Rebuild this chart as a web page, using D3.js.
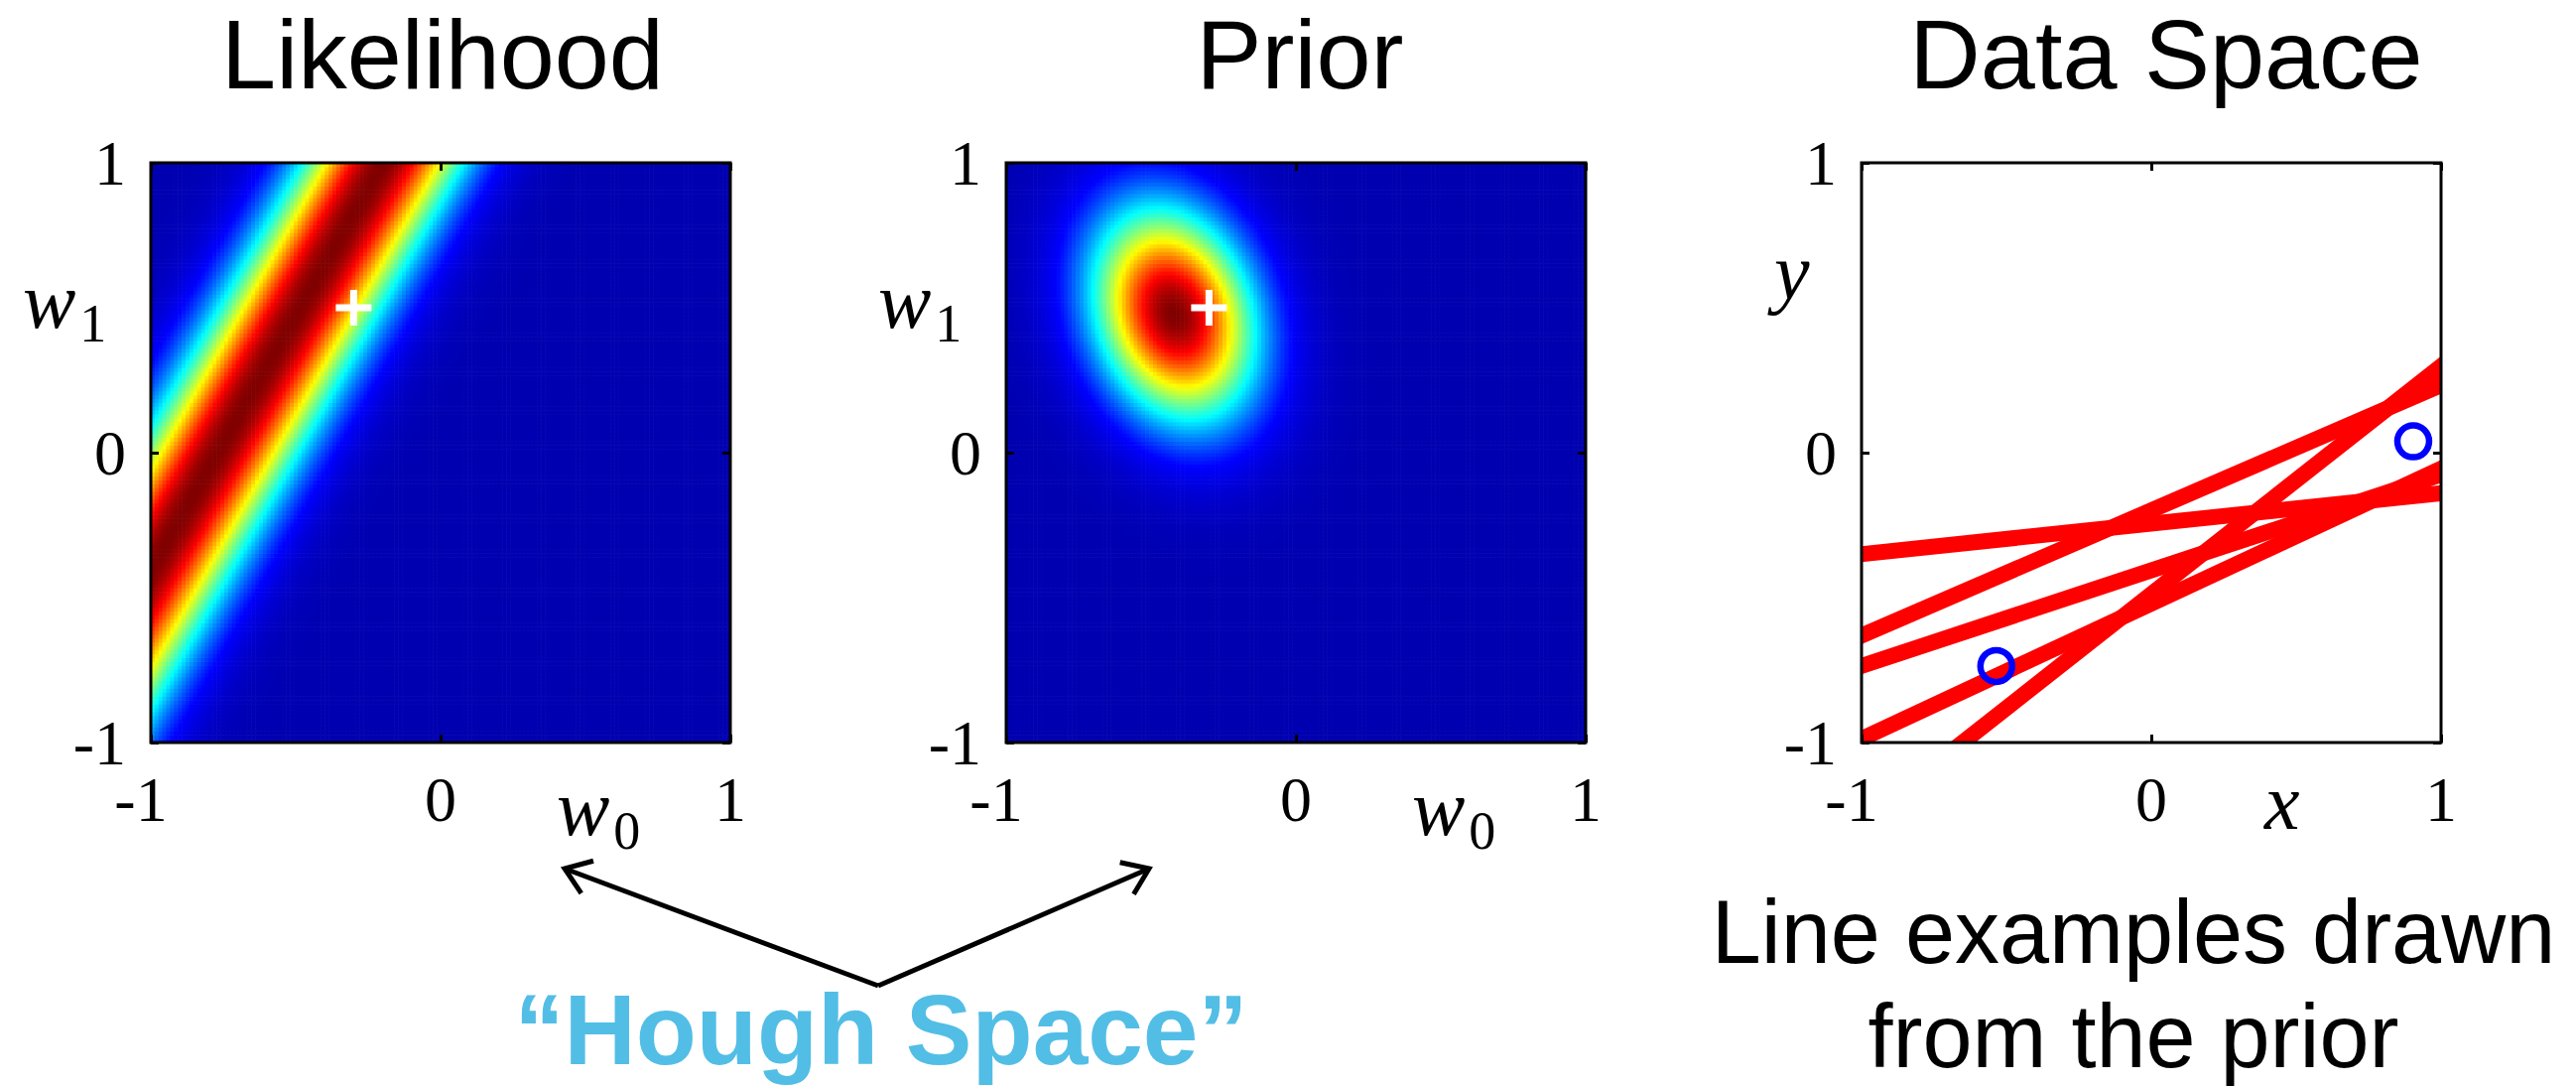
<!DOCTYPE html>
<html>
<head>
<meta charset="utf-8">
<script src="https://cdn.jsdelivr.net/npm/d3@7"></script>
<style>
  body { margin: 0; background: #fff; }
  .title { font-family: "Liberation Sans", Arial, Helvetica, sans-serif; font-size: 99px; text-anchor: middle; }
  .tick-label { font-family: "Liberation Serif", "Times New Roman", serif; font-size: 64px; }
  .math { font-family: "Liberation Serif", "Times New Roman", serif; font-style: italic; }
</style>
</head>
<body>
<svg id="chart" width="2596" height="1094"></svg>
<script>
// ---- data ----
var panelTitles = ["Likelihood", "Prior", "Data Space"];
var tickValues = [-1, 0, 1];
var tickLabels = ["-1", "0", "1"];

// true weights (white cross) w0, w1
var trueW = [-0.3, 0.5];

// single observation used for the likelihood band (x, t) and the noise level
var likelihoodObs = [-0.57, -0.77];
var noiseSigma = 0.2;

// prior gaussian over (w0, w1)
var priorMean = [-0.42, 0.48];
var priorSigma = [0.2, 0.26];
var priorRho = -0.2;

// observed points in data space
var obsX = [-0.535, 0.904];
var obsY = [-0.736, 0.039];

// line samples drawn from the prior (y = w0 + w1 * x)
var sampleW0 = [-0.245, -0.199, -0.406, -0.521, -0.488];
var sampleW1 = [0.105, 0.432, 0.33, 0.466, 0.786];

// ---- layout ----
var panelLeft = [152, 1014, 1876];
var panelTop = 164, panelSize = 584;
var gridN = 150;

var svg = d3.select("#chart");

// MATLAB jet colormap
var jet = d3.scaleLinear()
    .domain([0, 0.125, 0.375, 0.625, 0.875, 1])
    .range(["#0000b0", "#0000ff", "#00ffff", "#ffff00", "#ff0000", "#800000"])
    .clamp(true);

function likelihood(w0, w1) {
    var r = likelihoodObs[1] - w0 - w1 * likelihoodObs[0];
    return Math.exp(-r * r / (2 * noiseSigma * noiseSigma));
}
function prior(w0, w1) {
    var a = (w0 - priorMean[0]) / priorSigma[0];
    var b = (w1 - priorMean[1]) / priorSigma[1];
    var q = (a * a - 2 * priorRho * a * b + b * b) / (1 - priorRho * priorRho);
    return Math.exp(-q / 2);
}

var panels = panelLeft.map(function (left, i) {
    var g = svg.append("g").attr("class", "panel panel-" + i);
    var x = d3.scaleLinear().domain([-1, 1]).range([left, left + panelSize]);
    var y = d3.scaleLinear().domain([-1, 1]).range([panelTop + panelSize, panelTop]);
    return { g: g, x: x, y: y, left: left };
});

// titles
svg.selectAll("text.title")
    .data(panelTitles)
    .enter().append("text")
    .attr("class", "title")
    .attr("x", function (d, i) { return [446, 1310, 2183][i]; })
    .attr("y", 89)
    .text(function (d) { return d; });

// heat maps
var cells = [];
var step = 2 / gridN;
for (var i = 0; i < gridN; i++) {
    for (var j = 0; j < gridN; j++) {
        cells.push({ w0: -1 + i * step, w1: -1 + (j + 1) * step });
    }
}
[likelihood, prior].forEach(function (fn, k) {
    var p = panels[k];
    var vals = cells.map(function (c) { return fn(c.w0 + step / 2, c.w1 - step / 2); });
    var vmax = d3.max(vals), vmin = d3.min(vals);
    var cw = p.x(step) - p.x(0);
    p.g.append("g")
        .selectAll("rect")
        .data(cells)
        .enter().append("rect")
        .attr("x", function (d) { return p.x(d.w0); })
        .attr("y", function (d) { return p.y(d.w1); })
        .attr("width", cw + 0.6)
        .attr("height", cw + 0.6)
        .attr("fill", function (d, n) { return jet((vals[n] - vmin) / (vmax - vmin)); });
    // white cross at the true weights
    var cx = p.x(trueW[0]), cy = p.y(trueW[1]);
    p.g.append("path")
        .attr("d", "M" + (cx - 18) + "," + cy + "H" + (cx + 18) + "M" + cx + "," + (cy - 18) + "V" + (cy + 18))
        .attr("stroke", "#fff")
        .attr("stroke-width", 7)
        .attr("fill", "none");
});

// data space: sampled lines and observations
(function () {
    var p = panels[2];
    svg.append("clipPath").attr("id", "clip-data")
        .append("rect")
        .attr("x", p.left).attr("y", panelTop)
        .attr("width", panelSize).attr("height", panelSize);
    var line = d3.line().x(function (d) { return p.x(d[0]); }).y(function (d) { return p.y(d[1]); });
    p.g.append("g")
        .attr("clip-path", "url(#clip-data)")
        .selectAll("path")
        .data(sampleW0.map(function (w0, n) { return [w0, sampleW1[n]]; }))
        .enter().append("path")
        .attr("d", function (w) { return line([[-1.2, w[0] - 1.2 * w[1]], [1.2, w[0] + 1.2 * w[1]]]); })
        .attr("stroke", "#ff0000")
        .attr("stroke-width", 16)
        .attr("fill", "none");
    p.g.selectAll("circle")
        .data(obsX)
        .enter().append("circle")
        .attr("cx", function (d) { return p.x(d); })
        .attr("cy", function (d, n) { return p.y(obsY[n]); })
        .attr("r", 16)
        .attr("fill", "none")
        .attr("stroke", "#0000ff")
        .attr("stroke-width", 6.5);
})();

// frames, ticks and tick labels
panels.forEach(function (p) {
    var bottom = panelTop + panelSize;
    p.g.append("rect")
        .attr("x", p.left).attr("y", panelTop)
        .attr("width", panelSize).attr("height", panelSize)
        .attr("fill", "none").attr("stroke", "#000").attr("stroke-width", 3);
    var axes = [
        [d3.axisBottom(p.x), "translate(0," + bottom + ")"],
        [d3.axisTop(p.x), "translate(0," + panelTop + ")"],
        [d3.axisLeft(p.y), "translate(" + p.left + ",0)"],
        [d3.axisRight(p.y), "translate(" + (p.left + panelSize) + ",0)"]
    ];
    axes.forEach(function (a) {
        var ax = p.g.append("g")
            .attr("transform", a[1])
            .call(a[0].tickValues(tickValues).tickSize(-8).tickFormat(""));
        ax.select(".domain").remove();
        ax.selectAll("line").attr("stroke", "#000").attr("stroke-width", 3);
    });
    p.g.selectAll("text.xlab")
        .data(tickValues)
        .enter().append("text")
        .attr("class", "tick-label xlab")
        .attr("text-anchor", "middle")
        .attr("x", function (d) { return p.x(d); })
        .attr("dx", function (d, n) { return tickLabels[n].charAt(0) === "-" ? -10 : 0; })
        .attr("y", bottom + 79)
        .text(function (d, n) { return tickLabels[n]; });
    p.g.selectAll("text.ylab")
        .data(tickValues)
        .enter().append("text")
        .attr("class", "tick-label ylab")
        .attr("text-anchor", "end")
        .attr("x", p.left - 25)
        .attr("y", function (d) { return p.y(d) + 22; })
        .text(function (d, n) { return tickLabels[n]; });
});

// axis labels
function mathLabel(x, y, main, sub) {
    var t = svg.append("text").attr("class", "math").attr("x", x).attr("y", y);
    t.append("tspan").attr("font-size", 80).text(main);
    if (sub) {
        t.append("tspan").attr("font-size", 54).attr("font-style", "normal").attr("dx", 4).attr("dy", 14).text(sub);
    }
}
[0, 1].forEach(function (k) {
    var left = panelLeft[k];
    mathLabel(left - 129, 330, "w", "1");
    mathLabel(left + 409, 841, "w", "0");
});
mathLabel(panelLeft[2] - 88, 301, "y");
mathLabel(panelLeft[2] + 406, 835, "x");

// "Hough Space" annotation with arrows
var apex = [885, 993];
var tips = [[569, 875], [1158, 875]];
var arrows = svg.append("g").attr("stroke", "#000").attr("stroke-width", 5).attr("fill", "none");
tips.forEach(function (t) {
    arrows.append("path").attr("d", d3.line()([apex, t]));
    var ang = Math.atan2(apex[1] - t[1], apex[0] - t[0]);
    var len = 30, spread = 0.62;
    var a1 = [t[0] + len * Math.cos(ang + spread), t[1] + len * Math.sin(ang + spread)];
    var a2 = [t[0] + len * Math.cos(ang - spread), t[1] + len * Math.sin(ang - spread)];
    arrows.append("path").attr("d", d3.line()([a1, t, a2]));
});
svg.append("text")
    .attr("x", 888).attr("y", 1072)
    .attr("text-anchor", "middle")
    .attr("font-family", "'Liberation Sans', Arial, Helvetica, sans-serif")
    .attr("font-weight", "bold")
    .attr("font-size", 100)
    .attr("fill", "#52bee6")
    .text("\u201CHough Space\u201D");

// caption under the data space
var caption = ["Line examples drawn", "from the prior"];
svg.selectAll("text.caption")
    .data(caption)
    .enter().append("text")
    .attr("class", "caption")
    .attr("x", 2150)
    .attr("y", function (d, n) { return 970 + n * 105; })
    .attr("text-anchor", "middle")
    .attr("font-family", "'Liberation Sans', Arial, Helvetica, sans-serif")
    .attr("font-size", 90)
    .text(function (d) { return d; });
</script>
</body>
</html>
